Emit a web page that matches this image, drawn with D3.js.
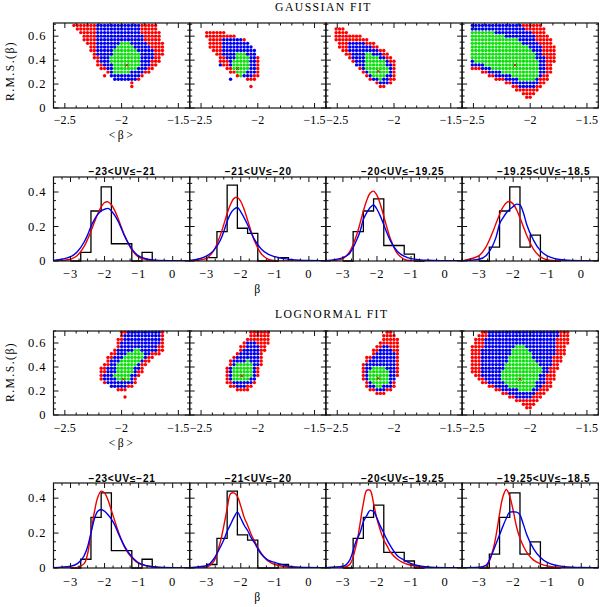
<!DOCTYPE html>
<html lang="en">
<head>
<meta charset="UTF-8">
<title>beta fits</title>
<style>
    body { margin: 0; background: #fff; }
    .num { font-family: "Liberation Serif", "DejaVu Serif", serif; font-size: 12.5px; letter-spacing: 1px; fill: #000; }
    .num-tight { font-family: "Liberation Serif", "DejaVu Serif", serif; font-size: 12px; letter-spacing: 0.1px; fill: #000; }
    .title { font-family: "Liberation Serif", "DejaVu Serif", serif; font-size: 11.7px; letter-spacing: 1.45px; fill: #000; }
    .bin-title { font-family: "Liberation Sans", Arial, sans-serif; font-weight: bold; font-size: 10px; letter-spacing: 0.8px; fill: #000; }
    .frame { fill: none; stroke: #111; stroke-width: 1.2; }
    .tick { stroke: #111; stroke-width: 1; }
    .hist { fill: none; stroke: #000; stroke-width: 1.3; }
    .fit-red { fill: none; stroke: #ee0000; stroke-width: 1.4; }
    .fit-blue { fill: none; stroke: #0000ee; stroke-width: 1.4; }
    .best { stroke: #b02a10; stroke-width: 1; }
</style>
</head>
<body>
<svg width="600" height="607"></svg>
<script src="https://d3js.org/d3.v7.min.js"></script>
<script>
// ---- data ----
var binTitles = ["\u221223<UV\u2264\u221221", "\u221221<UV\u2264\u221220", "\u221220<UV\u2264\u221219.25", "\u221219.25<UV\u2264\u221218.5"];
var binEdges = [-3.0, -2.7, -2.4, -2.1, -1.8, -1.5, -1.2, -0.9, -0.6];
var histFrac = [
    [0, 0.05, 0.29, 0.43, 0.10, 0.10, 0, 0.05],
    [0.02, 0.17, 0.44, 0.19, 0.16, 0, 0, 0.02],
    [0, 0.17, 0.29, 0.36, 0.09, 0.09, 0.04, 0],
    [0, 0.08, 0.29, 0.43, 0.08, 0.15, 0, 0]
];
var curveBeta = [-3.5, -3.0, -2.8, -2.6, -2.5, -2.4, -2.3, -2.2, -2.1, -2.0, -1.9, -1.8, -1.7, -1.6, -1.4, -1.2, -1.0, -0.5, 0, 0.5];
var gaussRedCurve = [
    [0, 0.01, 0.032, 0.085, 0.125, 0.173, 0.224, 0.274, 0.314, 0.339, 0.343, 0.326, 0.292, 0.245, 0.143, 0.065, 0.023, 0.001, 0, 0],
    [0, 0.017, 0.059, 0.15, 0.211, 0.275, 0.329, 0.363, 0.369, 0.345, 0.298, 0.237, 0.174, 0.118, 0.042, 0.011, 0.002, 0, 0, 0],
    [0, 0.014, 0.055, 0.149, 0.217, 0.289, 0.352, 0.394, 0.405, 0.381, 0.328, 0.26, 0.189, 0.126, 0.043, 0.01, 0.002, 0, 0, 0],
    [0.001, 0.031, 0.081, 0.168, 0.22, 0.27, 0.312, 0.338, 0.345, 0.33, 0.297, 0.25, 0.199, 0.148, 0.068, 0.024, 0.007, 0, 0, 0]
];
var gaussBlueCurve = [
    [0.003, 0.025, 0.054, 0.11, 0.15, 0.20, 0.24, 0.27, 0.29, 0.30, 0.305, 0.29, 0.265, 0.23, 0.14, 0.07, 0.03, 0.005, 0.002, 0.001],
    [0.003, 0.03, 0.06, 0.12, 0.17, 0.23, 0.275, 0.30, 0.31, 0.285, 0.25, 0.21, 0.165, 0.125, 0.07, 0.04, 0.025, 0.008, 0.003, 0.002],
    [0.002, 0.02, 0.045, 0.12, 0.17, 0.24, 0.28, 0.31, 0.325, 0.30, 0.26, 0.21, 0.16, 0.115, 0.055, 0.028, 0.014, 0.004, 0.002, 0.001],
    [0.001, 0.01, 0.03, 0.09, 0.14, 0.215, 0.25, 0.28, 0.30, 0.315, 0.33, 0.325, 0.28, 0.21, 0.12, 0.06, 0.03, 0.006, 0.002, 0.001]
];
var lognRedCurve = [
    [0, 0.001, 0.004, 0.025, 0.08, 0.2, 0.32, 0.405, 0.44, 0.43, 0.39, 0.33, 0.27, 0.21, 0.115, 0.058, 0.027, 0.004, 0.001, 0],
    [0, 0.005, 0.035, 0.15, 0.24, 0.34, 0.425, 0.43, 0.41, 0.355, 0.29, 0.245, 0.195, 0.155, 0.085, 0.04, 0.02, 0.003, 0.001, 0],
    [0, 0.002, 0.02, 0.14, 0.25, 0.37, 0.445, 0.445, 0.37, 0.28, 0.215, 0.16, 0.125, 0.09, 0.05, 0.028, 0.016, 0.003, 0.001, 0],
    [0, 0, 0.004, 0.1, 0.19, 0.31, 0.41, 0.45, 0.41, 0.33, 0.235, 0.17, 0.125, 0.09, 0.045, 0.024, 0.012, 0.002, 0, 0]
];
var lognBlueCurve = [
    [0.002, 0.01, 0.025, 0.07, 0.12, 0.2, 0.28, 0.325, 0.335, 0.325, 0.305, 0.28, 0.245, 0.2, 0.12, 0.065, 0.03, 0.006, 0.002, 0.001],
    [0.002, 0.013, 0.05, 0.12, 0.16, 0.21, 0.25, 0.29, 0.32, 0.285, 0.245, 0.215, 0.175, 0.145, 0.08, 0.045, 0.032, 0.008, 0.003, 0.002],
    [0.002, 0.01, 0.045, 0.16, 0.2, 0.265, 0.3, 0.33, 0.325, 0.285, 0.24, 0.2, 0.16, 0.125, 0.07, 0.045, 0.025, 0.006, 0.002, 0.001],
    [0.001, 0.004, 0.015, 0.09, 0.14, 0.19, 0.24, 0.285, 0.32, 0.322, 0.32, 0.305, 0.25, 0.19, 0.11, 0.06, 0.032, 0.008, 0.003, 0.002]
];

// confidence regions in the (<beta>, rms) plane, as outlines [beta, rms]
var gaussRed = [
    [[-2.42,0.70],[-1.68,0.70],[-1.66,0.594],[-1.63,0.553],[-1.63,0.456],[-1.66,0.40],[-1.71,0.344],[-1.75,0.303],[-1.81,0.261],[-1.87,0.228],[-1.91,0.20],[-1.95,0.215],[-2.05,0.24],[-2.10,0.27],[-2.19,0.33],[-2.23,0.386],[-2.26,0.428],[-2.28,0.483],[-2.32,0.553],[-2.37,0.622],[-2.42,0.683]],
    [[-2.45,0.65],[-2.32,0.65],[-2.215,0.608],[-2.157,0.594],[-2.08,0.553],[-2.025,0.497],[-1.99,0.428],[-1.98,0.344],[-1.995,0.275],[-2.015,0.233],[-2.10,0.233],[-2.186,0.267],[-2.27,0.317],[-2.32,0.372],[-2.378,0.456],[-2.435,0.525],[-2.45,0.594]],
    [[-2.511,0.664],[-2.45,0.664],[-2.388,0.628],[-2.30,0.608],[-2.197,0.553],[-2.123,0.511],[-2.05,0.456],[-1.976,0.372],[-1.971,0.261],[-2.006,0.219],[-2.094,0.156],[-2.167,0.211],[-2.27,0.275],[-2.358,0.372],[-2.446,0.469],[-2.52,0.553]],
    [[-2.516,0.70],[-1.908,0.70],[-1.855,0.636],[-1.803,0.567],[-1.782,0.483],[-1.788,0.372],[-1.811,0.289],[-1.855,0.206],[-1.914,0.15],[-1.988,0.094],[-2.017,0.053],[-2.046,0.081],[-2.09,0.128],[-2.163,0.172],[-2.252,0.219],[-2.34,0.256],[-2.428,0.294],[-2.516,0.331]]
];
var gaussBlue = [
    [[-2.22,0.70],[-1.84,0.70],[-1.82,0.62],[-1.78,0.553],[-1.73,0.483],[-1.72,0.414],[-1.75,0.358],[-1.79,0.317],[-1.84,0.275],[-1.88,0.233],[-1.98,0.225],[-2.07,0.233],[-2.11,0.303],[-2.155,0.344],[-2.19,0.386],[-2.21,0.44],[-2.22,0.511]],
    [[-2.32,0.60],[-2.17,0.589],[-2.10,0.553],[-2.045,0.511],[-2.016,0.456],[-2.01,0.344],[-2.025,0.289],[-2.05,0.256],[-2.11,0.261],[-2.20,0.303],[-2.245,0.358],[-2.297,0.428],[-2.327,0.511],[-2.33,0.572]],
    [[-2.402,0.567],[-2.255,0.544],[-2.108,0.469],[-2.02,0.372],[-2.012,0.275],[-2.059,0.206],[-2.123,0.192],[-2.24,0.275],[-2.343,0.372],[-2.393,0.456],[-2.411,0.525]],
    [[-2.516,0.70],[-2.075,0.70],[-1.972,0.608],[-1.89,0.483],[-1.866,0.386],[-1.878,0.303],[-1.937,0.206],[-2.002,0.15],[-2.06,0.156],[-2.149,0.206],[-2.252,0.247],[-2.355,0.289],[-2.443,0.331],[-2.516,0.358]]
];
var gaussGreen = [
    [[-2.0,0.56],[-1.93,0.56],[-1.86,0.48],[-1.83,0.40],[-1.85,0.34],[-1.92,0.30],[-1.98,0.27],[-2.06,0.30],[-2.10,0.40],[-2.08,0.47]],
    [[-2.18,0.47],[-2.104,0.47],[-2.074,0.40],[-2.083,0.33],[-2.104,0.275],[-2.16,0.267],[-2.21,0.33],[-2.215,0.40]],
    [[-2.255,0.461],[-2.167,0.442],[-2.094,0.40],[-2.059,0.344],[-2.059,0.275],[-2.094,0.239],[-2.138,0.239],[-2.197,0.275],[-2.247,0.331],[-2.27,0.40]],
    [[-2.516,0.656],[-2.428,0.656],[-2.295,0.622],[-2.119,0.572],[-2.002,0.497],[-1.937,0.414],[-1.908,0.344],[-1.92,0.267],[-1.972,0.219],[-2.06,0.228],[-2.178,0.275],[-2.295,0.317],[-2.413,0.358],[-2.516,0.40]]
];
var gaussBest = [[-1.955, 0.358], [-2.18, 0.33], [-2.138, 0.308], [-2.134, 0.358]];
var gaussExtra = [
    [[-2.155, 0.256, "red"], [-1.92, 0.172, "red"]],
    [[-2.07, 0.17, "red"], [-2.324, 0.358, "blue"], [-2.245, 0.253, "blue"]],
    [],
    []
];

var lognRed = [
    [[-2.0,0.70],[-1.633,0.70],[-1.612,0.614],[-1.626,0.544],[-1.691,0.488],[-1.75,0.446],[-1.794,0.391],[-1.838,0.315],[-1.897,0.251],[-1.95,0.205],[-2.014,0.205],[-2.102,0.232],[-2.176,0.265],[-2.196,0.321],[-2.19,0.391],[-2.146,0.455],[-2.087,0.516],[-2.049,0.586],[-2.029,0.642]],
    [[-2.063,0.70],[-1.907,0.70],[-1.898,0.60],[-1.945,0.53],[-1.957,0.446],[-1.986,0.349],[-2.016,0.265],[-2.068,0.215],[-2.104,0.187],[-2.186,0.209],[-2.25,0.237],[-2.289,0.298],[-2.28,0.377],[-2.245,0.446],[-2.186,0.53],[-2.127,0.60],[-2.083,0.65]],
    [[-2.079,0.70],[-2.02,0.70],[-1.967,0.633],[-1.947,0.558],[-1.947,0.488],[-1.971,0.432],[-1.962,0.363],[-1.976,0.279],[-2.006,0.223],[-2.064,0.181],[-2.123,0.159],[-2.197,0.187],[-2.255,0.251],[-2.29,0.335],[-2.29,0.41],[-2.255,0.466],[-2.197,0.522],[-2.138,0.586],[-2.094,0.656]],
    [[-2.428,0.70],[-1.65,0.70],[-1.664,0.60],[-1.694,0.516],[-1.732,0.432],[-1.773,0.335],[-1.82,0.237],[-1.884,0.153],[-1.958,0.084],[-2.017,0.02],[-2.075,0.084],[-2.149,0.126],[-2.252,0.176],[-2.34,0.218],[-2.428,0.265],[-2.501,0.315],[-2.522,0.404],[-2.522,0.544],[-2.501,0.614]]
];
var lognBlue = [
    [[-1.961,0.70],[-1.647,0.70],[-1.647,0.60],[-1.706,0.53],[-1.779,0.474],[-1.823,0.418],[-1.867,0.349],[-1.911,0.265],[-1.97,0.223],[-2.058,0.223],[-2.137,0.259],[-2.161,0.321],[-2.137,0.377],[-2.087,0.455],[-2.038,0.544],[-2.0,0.628]],
    [[-2.068,0.628],[-2.016,0.628],[-1.986,0.55],[-1.98,0.474],[-2.004,0.377],[-2.016,0.293],[-2.068,0.243],[-2.156,0.232],[-2.221,0.251],[-2.25,0.315],[-2.245,0.399],[-2.20,0.474],[-2.142,0.544],[-2.092,0.60]],
    [[-2.079,0.586],[-2.011,0.558],[-1.991,0.488],[-1.991,0.377],[-2.0,0.298],[-2.029,0.237],[-2.079,0.209],[-2.138,0.201],[-2.205,0.223],[-2.246,0.279],[-2.264,0.349],[-2.252,0.418],[-2.211,0.466],[-2.152,0.516]],
    [[-2.37,0.70],[-1.756,0.70],[-1.764,0.60],[-1.79,0.488],[-1.829,0.377],[-1.873,0.279],[-1.94,0.181],[-2.005,0.117],[-2.078,0.126],[-2.166,0.167],[-2.267,0.215],[-2.37,0.271],[-2.428,0.315],[-2.443,0.418],[-2.428,0.544],[-2.4,0.628]]
];
var lognGreen = [
    [[-1.891,0.55],[-1.832,0.55],[-1.785,0.488],[-1.838,0.446],[-1.891,0.377],[-1.92,0.307],[-1.97,0.271],[-2.043,0.271],[-2.064,0.335],[-2.043,0.427],[-2.008,0.474],[-1.94,0.522]],
    [[-2.192,0.438],[-2.063,0.455],[-2.048,0.377],[-2.063,0.315],[-2.098,0.279],[-2.171,0.271],[-2.215,0.298],[-2.215,0.377]],
    [[-2.158,0.418],[-2.079,0.418],[-2.05,0.363],[-2.041,0.287],[-2.07,0.251],[-2.123,0.232],[-2.188,0.251],[-2.217,0.307],[-2.211,0.371]],
    [[-2.148,0.572],[-2.076,0.60],[-2.026,0.566],[-1.996,0.502],[-1.92,0.418],[-1.899,0.363],[-1.938,0.293],[-1.964,0.232],[-2.017,0.195],[-2.105,0.209],[-2.193,0.243],[-2.257,0.298],[-2.257,0.363],[-2.207,0.427],[-2.172,0.502]]
];
var lognBest = [[-1.985, 0.298], [-2.142, 0.326], [-2.138, 0.307], [-2.09, 0.298]];
var lognExtra = [[[-1.96, 0.16, "red"]], [], [], []];

var scatterXTicks = [-2.5, -2, -1.5];
var scatterYTicks = [0, 0.2, 0.4, 0.6];
var histXTicks = [-3, -2, -1, 0];
var histYTicks = [0, 0.2, 0.4];

// ---- layout ----
var svg = d3.select("svg");
var panelLeft = [53.5, 189.7, 325.9, 462.1], panelW = 136.2;
var dotColor = { red: "#ff0000", blue: "#0000ee", green: "#10e010" };
var gridStep = 0.03;
var betaGrid = d3.range(41).map(function (i) { return -2.6 + gridStep * i; });
var rmsGrid = d3.range(24).map(function (j) { return gridStep * j; });

function fmt(v) { return (v < 0 ? "\u2212" : "") + Math.abs(v); }

function stepValues(domain, step) {
    var a = Math.ceil(domain[0] / step - 1e-9), b = Math.floor(domain[1] / step + 1e-9);
    return d3.range(a, b + 1).map(function (i) { return i * step; });
}
function isMajor(v, major) { return Math.abs(v / major - Math.round(v / major)) < 1e-6; }

function frameTicks(g, x, y, xStep, xMajor, yStep, yMajor) {
    var x0 = x.range()[0], x1 = x.range()[1], y0 = y.range()[0], y1 = y.range()[1];
    stepValues(x.domain(), xStep).forEach(function (v) {
        var L = isMajor(v, xMajor) ? 5 : 2.5, px = x(v);
        g.append("line").attr("class", "tick").attr("x1", px).attr("x2", px).attr("y1", y0).attr("y2", y0 - L);
        g.append("line").attr("class", "tick").attr("x1", px).attr("x2", px).attr("y1", y1).attr("y2", y1 + L);
    });
    stepValues(y.domain(), yStep).forEach(function (v) {
        var L = isMajor(v, yMajor) ? 5 : 2.5, py = y(v);
        g.append("line").attr("class", "tick").attr("y1", py).attr("y2", py).attr("x1", x0).attr("x2", x0 + L);
        g.append("line").attr("class", "tick").attr("y1", py).attr("y2", py).attr("x1", x1).attr("x2", x1 - L);
    });
    g.append("rect").attr("class", "frame")
        .attr("x", x0).attr("y", y1).attr("width", x1 - x0).attr("height", y0 - y1);
}

function snap(b) { return -2.6 + Math.round((b + 2.6) / gridStep) * gridStep; }
function snapR(r) { return Math.round(r / gridStep) * gridStep; }

function scatterRow(top, bottom, ymax, reds, blues, greens, best, extra, xLabelY) {
    panelLeft.forEach(function (left, k) {
        var x = d3.scaleLinear().domain([-2.6, -1.4]).range([left, left + panelW]);
        var y = d3.scaleLinear().domain([0, ymax]).range([bottom, top]);
        var g = svg.append("g");
        var cells = [];
        rmsGrid.forEach(function (r) {
            betaGrid.forEach(function (b) {
                var p = [b, r], c = null;
                if (d3.polygonContains(greens[k], p)) c = "green";
                else if (d3.polygonContains(blues[k], p)) c = "blue";
                else if (d3.polygonContains(reds[k], p)) c = "red";
                if (c) cells.push({ b: b, r: r, c: c });
            });
        });
        extra[k].forEach(function (e) { cells.push({ b: snap(e[0]), r: snapR(e[1]), c: e[2] }); });
        g.selectAll("circle").data(cells).enter().append("circle")
            .attr("cx", function (d) { return x(d.b); })
            .attr("cy", function (d) { return y(d.r); })
            .attr("r", 1.7)
            .attr("fill", function (d) { return dotColor[d.c]; });
        var bx = x(best[k][0]), by = y(best[k][1]);
        g.append("line").attr("class", "best").attr("x1", bx - 1.6).attr("x2", bx + 1.6).attr("y1", by - 1.6).attr("y2", by + 1.6);
        g.append("line").attr("class", "best").attr("x1", bx - 1.6).attr("x2", bx + 1.6).attr("y1", by + 1.6).attr("y2", by - 1.6);
        frameTicks(g, x, y, 0.1, 0.5, 0.05, 0.2);
        g.selectAll(".xl").data(scatterXTicks).enter().append("text")
            .attr("class", "num-tight").attr("text-anchor", "middle")
            .attr("x", function (d) { return x(d); }).attr("y", xLabelY).text(fmt);
        if (k === 0) {
            g.selectAll(".yl").data(scatterYTicks).enter().append("text")
                .attr("class", "num").attr("text-anchor", "end")
                .attr("x", left - 7).attr("y", function (d) { return y(d) + 4; }).text(fmt);
        }
    });
}

function histRow(top, bottom, redCurves, blueCurves, xLabelY, titleY) {
    panelLeft.forEach(function (left, k) {
        var x = d3.scaleLinear().domain([-3.5, 0.5]).range([left, left + panelW]);
        var y = d3.scaleLinear().domain([0, 0.487]).range([bottom, top]);
        var g = svg.append("g");
        var clipId = "clip" + top + "_" + k;
        g.append("clipPath").attr("id", clipId).append("rect")
            .attr("x", left).attr("y", top).attr("width", panelW).attr("height", bottom - top);
        var pts = [[binEdges[0], 0]];
        histFrac[k].forEach(function (v, i) { pts.push([binEdges[i], v]); pts.push([binEdges[i + 1], v]); });
        pts.push([binEdges[binEdges.length - 1], 0]);
        var stepLine = d3.line().x(function (d) { return x(d[0]); }).y(function (d) { return y(d[1]); });
        g.append("path").attr("class", "hist").attr("d", stepLine(pts));
        var smooth = d3.line().curve(d3.curveCatmullRom)
            .x(function (d, i) { return x(curveBeta[i]); }).y(function (d) { return y(d); });
        var plain = d3.line().curve(d3.curveMonotoneX)
            .x(function (d, i) { return x(curveBeta[i]); }).y(function (d) { return y(d); });
        g.append("path").attr("class", "fit-red").attr("clip-path", "url(#" + clipId + ")").attr("d", smooth(redCurves[k]));
        g.append("path").attr("class", "fit-blue").attr("clip-path", "url(#" + clipId + ")").attr("d", plain(blueCurves[k]));
        frameTicks(g, x, y, 0.25, 1, 0.05, 0.2);
        g.selectAll(".xl").data(histXTicks).enter().append("text")
            .attr("class", "num").attr("text-anchor", "middle")
            .attr("x", function (d) { return x(d); }).attr("y", xLabelY).text(fmt);
        if (k === 0) {
            g.selectAll(".yl").data(histYTicks).enter().append("text")
                .attr("class", "num").attr("text-anchor", "end")
                .attr("x", left - 7).attr("y", function (d) { return y(d) + 4; }).text(fmt);
        }
        g.append("text").attr("class", "bin-title")
            .attr("x", left + 35).attr("y", titleY).text(binTitles[k]);
    });
}

scatterRow(23, 108, 0.71, gaussRed, gaussBlue, gaussGreen, gaussBest, gaussExtra, 124);
histRow(177, 261, gaussRedCurve, gaussBlueCurve, 278, 175);
scatterRow(331, 415, 0.70, lognRed, lognBlue, lognGreen, lognBest, lognExtra, 432);
histRow(483, 568, lognRedCurve, lognBlueCurve, 586, 482);

// titles and axis names
svg.append("text").attr("class", "title").attr("x", 275).attr("y", 11).text("GAUSSIAN FIT");
svg.append("text").attr("class", "title").attr("x", 275).attr("y", 318).text("LOGNORMAL FIT");
[71, 372].forEach(function (cy) {
    svg.append("text").attr("class", "title").attr("text-anchor", "middle")
        .attr("transform", "translate(13.5," + cy + ") rotate(-90)").text("R.M.S.(\u03b2)");
});
[139, 447].forEach(function (by) {
    svg.append("text").attr("class", "title").attr("text-anchor", "middle")
        .style("letter-spacing", "2.5px").attr("x", 122).attr("y", by).text("<\u03b2>");
});
[293, 601].forEach(function (by) {
    svg.append("text").attr("class", "title").attr("text-anchor", "middle")
        .attr("x", 258).attr("y", by).text("\u03b2");
});
</script>
</body>
</html>
